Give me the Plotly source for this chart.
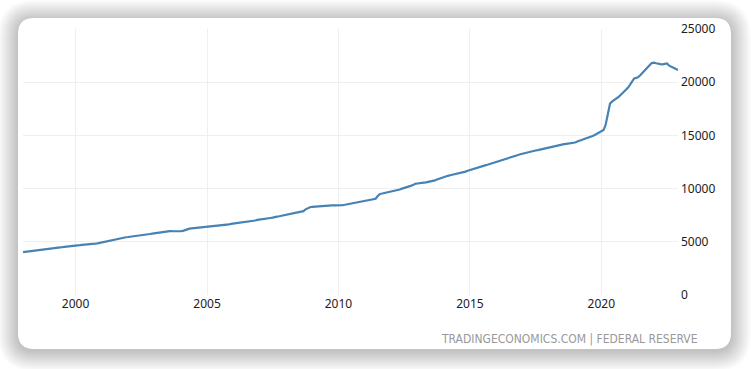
import plotly.graph_objects as go

# ---- data (M2 money supply, USD billion, monthly) ----
years = list(range(1998, 2023))
m2_by_year = {
    1998: [4030, 4060, 4090, 4115, 4135, 4155, 4170, 4195, 4230, 4275, 4315, 4370],
    1999: [4390, 4405, 4420, 4440, 4460, 4480, 4495, 4510, 4525, 4545, 4575, 4620],
    2000: [4640, 4655, 4680, 4715, 4725, 4740, 4755, 4780, 4810, 4830, 4855, 4900],
    2001: [4960, 5010, 5050, 5100, 5130, 5170, 5210, 5260, 5340, 5350, 5385, 5430],
    2002: [5450, 5475, 5490, 5500, 5525, 5550, 5590, 5620, 5650, 5690, 5730, 5770],
    2003: [5800, 5840, 5870, 5910, 5960, 6010, 6020, 6010, 6000, 5990, 5990, 5990],
    2004: [5990, 6030, 6110, 6200, 6240, 6260, 6280, 6310, 6340, 6360, 6380, 6400],
    2005: [6410, 6420, 6430, 6445, 6465, 6490, 6510, 6540, 6570, 6600, 6630, 6680],
    2006: [6710, 6730, 6750, 6780, 6790, 6820, 6840, 6870, 6900, 6950, 7000, 7060],
    2007: [7080, 7110, 7150, 7200, 7220, 7240, 7270, 7340, 7370, 7400, 7440, 7490],
    2008: [7560, 7600, 7640, 7680, 7720, 7750, 7760, 7780, 7880, 8050, 8180, 8250],
    2009: [8290, 8310, 8340, 8370, 8390, 8400, 8400, 8400, 8410, 8420, 8430, 8430],
    2010: [8400, 8430, 8450, 8480, 8520, 8560, 8600, 8640, 8680, 8720, 8760, 8800],
    2011: [8830, 8870, 8920, 8970, 9010, 9050, 9300, 9500, 9540, 9580, 9620, 9660],
    2012: [9730, 9790, 9830, 9880, 9920, 10000, 10050, 10100, 10180, 10260, 10330, 10450],
    2013: [10480, 10490, 10520, 10560, 10590, 10620, 10660, 10720, 10770, 10850, 10930, 11030],
    2014: [11060, 11120, 11200, 11260, 11300, 11340, 11390, 11450, 11500, 11550, 11600, 11680],
    2015: [11750, 11840, 11890, 11940, 11990, 12060, 12120, 12180, 12240, 12300, 12370, 12450],
    2016: [12500, 12560, 12620, 12700, 12760, 12840, 12900, 12960, 13020, 13080, 13160, 13230],
    2017: [13290, 13350, 13410, 13460, 13500, 13540, 13580, 13620, 13670, 13730, 13790, 13850],
    2018: [13890, 13930, 13990, 14030, 14070, 14110, 14140, 14180, 14210, 14240, 14250, 14260],
    2019: [14330, 14420, 14480, 14540, 14610, 14690, 14780, 14860, 14940, 15030, 15130, 15250],
    2020: [15400, 15500, 16000, 17100, 18000, 18200, 18350, 18450, 18650, 18850, 19050, 19200],
    2021: [19450, 19750, 20050, 20350, 20400, 20500, 20700, 20950, 21200, 21400, 21600, 21800],
    2022: [21830, 21780, 21720, 21700, 21680, 21700, 21760, 21550, 21450, 21350, 21250, 21150],
}
x_tick_vals = ["2000-01-01", "2005-01-01", "2010-01-01", "2015-01-01", "2020-01-01"]
x_tick_text = ["2000", "2005", "2010", "2015", "2020"]
y_tick_vals = [0, 5000, 10000, 15000, 20000, 25000]
y_tick_text = ["0", "5000", "10000", "15000", "20000", "25000"]
source_text = "TRADINGECONOMICS.COM | FEDERAL RESERVE"

dates = []
values = []
for y in years:
    for m, v in enumerate(m2_by_year[y], start=1):
        dates.append(f"{y}-{m:02d}-01")
        values.append(v)

# ---- layout geometry (pixels) ----
W, H = 751, 369
L, R, T, B = 23, 678, 29, 295

def px(x):
    return (x - L) / (R - L)

def py(y):
    return (B - y) / (B - T)

def rrect(x0, y0, x1, y1, r):
    return (
        f"M {px(x0 + r)} {py(y0)} L {px(x1 - r)} {py(y0)} "
        f"Q {px(x1)} {py(y0)} {px(x1)} {py(y0 + r)} "
        f"L {px(x1)} {py(y1 - r)} "
        f"Q {px(x1)} {py(y1)} {px(x1 - r)} {py(y1)} "
        f"L {px(x0 + r)} {py(y1)} "
        f"Q {px(x0)} {py(y1)} {px(x0)} {py(y1 - r)} "
        f"L {px(x0)} {py(y0 + r)} "
        f"Q {px(x0)} {py(y0)} {px(x0 + r)} {py(y0)} Z"
    )

CX0, CY0, CX1, CY1, CR = 18, 18, 731, 349, 16

shapes = []
# soft shadow
for i in range(20, 0, -1):
    shapes.append(dict(
        type="path", xref="paper", yref="paper", layer="below",
        path=rrect(CX0 - i, CY0 - i + 2, CX1 + i, CY1 + i + 2, CR + i),
        fillcolor="rgba(0,0,0,0.011)", line=dict(width=0),
    ))
# card
shapes.append(dict(
    type="path", xref="paper", yref="paper", layer="below",
    path=rrect(CX0, CY0, CX1, CY1, CR),
    fillcolor="white", line=dict(width=0),
))

fig = go.Figure()
fig.add_trace(go.Scatter(
    x=dates, y=values, mode="lines",
    line=dict(color="#4682b4", width=2.2),
    hoverinfo="x+y",
))

tick_font = dict(family="Noto Sans, DejaVu Sans, sans-serif", size=12, color="#222")

fig.update_layout(
    width=W, height=H,
    margin=dict(l=L, r=W - R, t=T, b=H - B, pad=0, autoexpand=False),
    paper_bgcolor="white",
    plot_bgcolor="rgba(0,0,0,0)",
    showlegend=False,
    shapes=shapes,
    xaxis=dict(
        type="date",
        range=[dates[0], dates[-1]],
        tickvals=x_tick_vals, ticktext=x_tick_text,
        showgrid=True, gridcolor="#efefef", gridwidth=1,
        zeroline=False, showline=False, ticks="",
        tickfont=tick_font, automargin=False,
    ),
    yaxis=dict(
        side="right",
        range=[0, 25000],
        tickvals=y_tick_vals, ticktext=y_tick_text,
        showgrid=True, gridcolor="#efefef", gridwidth=1,
        zeroline=False, showline=False, ticks="",
        tickfont=tick_font, automargin=False,
        ticklabelstandoff=2,
    ),
    annotations=[dict(
        text=source_text, xref="paper", yref="paper",
        x=px(700), y=py(339), xanchor="right", yanchor="middle",
        showarrow=False,
        font=dict(family="Liberation Sans Narrow, DejaVu Sans Condensed, sans-serif", size=12, color="#999"),
    )],
)

fig.write_html(
    "out.html",
    config={"displayModeBar": False},
    post_script="document.body.style.margin='0';",
)
